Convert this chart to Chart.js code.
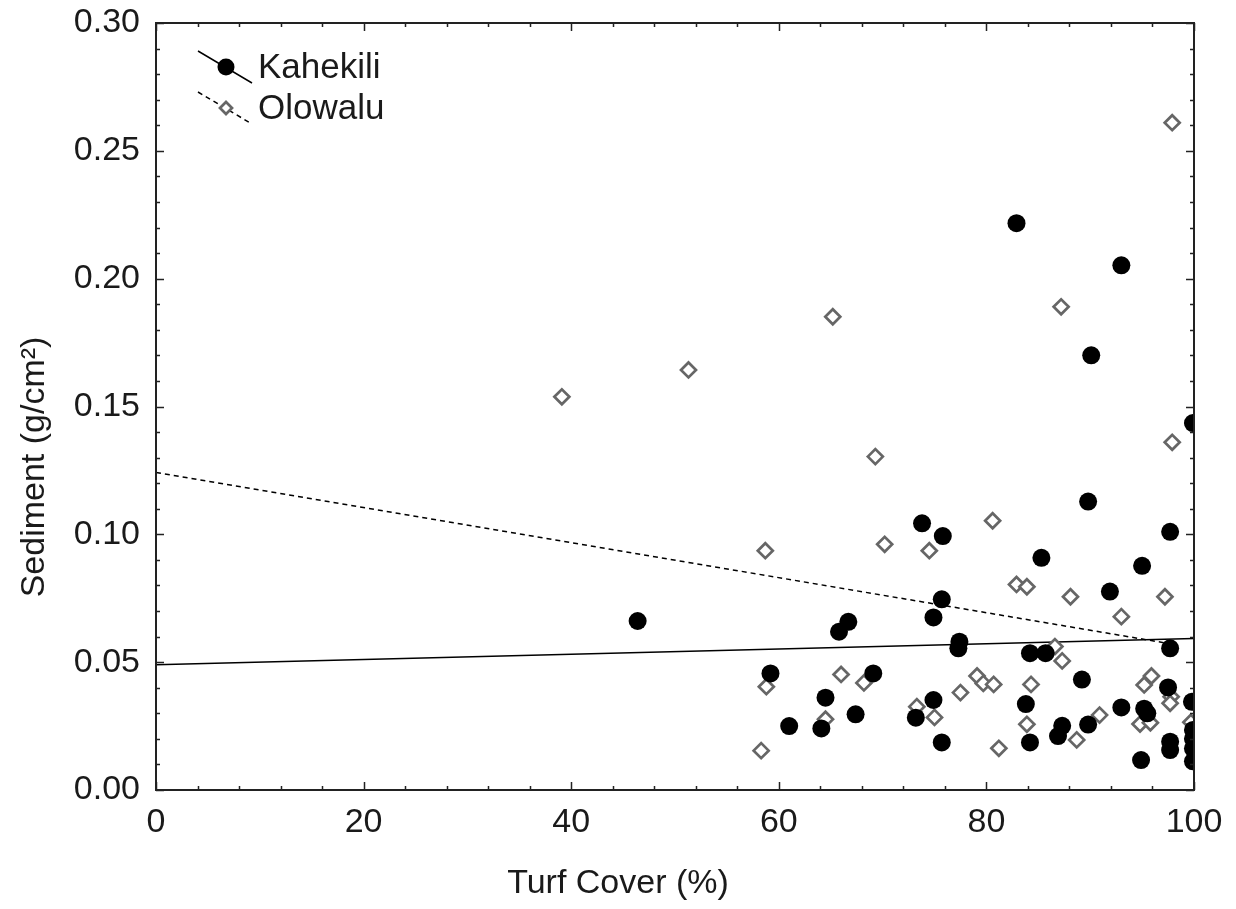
<!DOCTYPE html>
<html lang="en">
<head>
    <meta charset="UTF-8">
    <title>Sediment vs Turf Cover</title>
    <script src="https://cdn.jsdelivr.net/npm/chart.js"></script>
    <style>
        body, html {
            margin: 0;
            padding: 0;
            background: #fff;
            overflow: hidden;
        }
        #wrap {
            width: 1236px;
            height: 909px;
        }
    </style>
</head>
<body>
    <div id="wrap"><canvas id="sedimentChart"></canvas></div>

    <script>
        // Kahekili sites (filled circles)
        const kahekiliX = [46.4, 82.9, 93.0, 90.1, 99.9, 89.8, 73.8, 75.8, 97.7, 85.3, 95.0, 91.9, 75.7, 74.9, 66.7, 65.8,
            77.4, 77.3, 84.2, 85.7, 97.7, 59.2, 69.1, 89.2, 97.5, 99.8, 64.5, 74.9, 83.8, 93.0, 95.2, 95.5,
            67.4, 73.2, 61.0, 64.1, 87.3, 86.9, 89.8, 75.7, 84.2, 97.7, 97.7, 94.9, 99.9, 99.9, 99.9, 99.9];
        const kahekiliY = [0.0661, 0.2217, 0.2052, 0.1700, 0.1435, 0.1128, 0.1043, 0.0993, 0.1010, 0.0908, 0.0877, 0.0776, 0.0746, 0.0675, 0.0658, 0.0619,
            0.0580, 0.0554, 0.0535, 0.0535, 0.0554, 0.0456, 0.0456, 0.0432, 0.0401, 0.0345, 0.0361, 0.0352, 0.0336, 0.0323, 0.0318, 0.0300,
            0.0296, 0.0283, 0.0250, 0.0241, 0.0251, 0.0211, 0.0256, 0.0186, 0.0186, 0.0189, 0.0156, 0.0117, 0.0235, 0.0200, 0.0162, 0.0112];

        // Olowalu sites (open diamonds)
        const olowaluX = [39.1, 51.3, 65.2, 69.3, 87.2, 97.9, 97.9, 80.6, 70.2, 58.7, 74.5, 82.9, 83.9, 88.1, 93.0, 97.2,
            86.6, 87.3, 66.0, 58.8, 68.2, 79.1, 79.7, 80.7, 77.5, 84.3, 95.9, 95.2, 97.8, 97.7, 73.3, 75.0,
            64.5, 90.9, 83.9, 94.8, 95.8, 58.3, 81.2, 88.7, 99.7];
        const olowaluY = [0.1538, 0.1643, 0.1851, 0.1304, 0.1890, 0.2610, 0.1360, 0.1053, 0.0961, 0.0936, 0.0936, 0.0804, 0.0795, 0.0756, 0.0678, 0.0756,
            0.0561, 0.0505, 0.0452, 0.0404, 0.0419, 0.0446, 0.0417, 0.0413, 0.0381, 0.0413, 0.0446, 0.0411, 0.0365, 0.0339, 0.0326, 0.0284,
            0.0277, 0.0293, 0.0257, 0.0258, 0.0263, 0.0154, 0.0163, 0.0196, 0.0265];

        // regression lines (end points)
        const kahekiliFitX = [0, 100];
        const kahekiliFitY = [0.0490, 0.0593];
        const olowaluFitX = [0, 98];
        const olowaluFitY = [0.1242, 0.0570];

        const xTicks = [0, 20, 40, 60, 80, 100];
        const yTicks = [0, 0.05, 0.10, 0.15, 0.20, 0.25, 0.30];
        const xMinorStep = 4;
        const yMinorStep = 0.01;
        const xTitle = 'Turf Cover (%)';
        const yTitle = 'Sediment (g/cm²)';

        const toPoints = (xs, ys) => xs.map((x, i) => ({ x: x, y: ys[i] }));
        const FONT = "'Liberation Sans', Arial, sans-serif";
        const TEXT = '#1a1a1a';

        // frame with inward ticks on all four sides
        const frameTicks = {
            id: 'frameTicks',
            afterDatasetsDraw(chart) {
                const ctx = chart.ctx;
                const a = chart.chartArea;
                const xs = chart.scales.x, ys = chart.scales.y;
                ctx.save();
                ctx.strokeStyle = '#222';
                ctx.lineWidth = 1.5;
                ctx.beginPath();
                for (let v = xs.min; v <= xs.max + 1e-9; v += xMinorStep) {
                    const len = xTicks.some(t => Math.abs(t - v) < 1e-6) ? 8 : 4;
                    const px = Math.round(xs.getPixelForValue(v)) + 0.5;
                    ctx.moveTo(px, a.bottom); ctx.lineTo(px, a.bottom - len);
                    ctx.moveTo(px, a.top); ctx.lineTo(px, a.top + len);
                }
                for (let v = ys.min; v <= ys.max + 1e-9; v += yMinorStep) {
                    const len = yTicks.some(t => Math.abs(t - v) < 1e-6) ? 8 : 4;
                    const py = Math.round(ys.getPixelForValue(v)) + 0.5;
                    ctx.moveTo(a.left, py); ctx.lineTo(a.left + len, py);
                    ctx.moveTo(a.right, py); ctx.lineTo(a.right - len, py);
                }
                ctx.stroke();
                ctx.lineWidth = 2;
                ctx.strokeRect(a.left, a.top, a.right - a.left, a.bottom - a.top);
                ctx.restore();
            }
        };

        // axis titles: the original centres them on the page, not on the plot box
        const axisTitles = {
            id: 'axisTitles',
            afterDraw(chart) {
                const ctx = chart.ctx;
                ctx.save();
                ctx.fillStyle = TEXT;
                ctx.font = '34px ' + FONT;
                ctx.textAlign = 'center';
                ctx.textBaseline = 'middle';
                ctx.fillText(xTitle, chart.width / 2, 884);
                ctx.translate(35, 467);
                ctx.rotate(-Math.PI / 2);
                ctx.fillText(yTitle, 0, 0);
                ctx.restore();
            }
        };

        // legend in the upper-left corner, symbol on a slanted line sample
        const cornerLegend = {
            id: 'cornerLegend',
            afterDatasetsDraw(chart) {
                const ctx = chart.ctx;
                const a = chart.chartArea;
                const ds = chart.data.datasets;
                const rows = [[ds[0], ds[2]], [ds[1], ds[3]]];
                rows.forEach(([pts, fit], i) => {
                    const cx = a.left + 70;
                    const cy = a.top + 44 + i * 41;
                    ctx.save();
                    ctx.strokeStyle = fit.borderColor;
                    ctx.lineWidth = fit.borderWidth;
                    ctx.setLineDash(fit.borderDash || []);
                    ctx.beginPath();
                    ctx.moveTo(cx - 28, cy - 16);
                    ctx.lineTo(cx + 26, cy + 16);
                    ctx.stroke();
                    ctx.setLineDash([]);
                    ctx.fillStyle = pts.backgroundColor;
                    ctx.strokeStyle = pts.borderColor;
                    ctx.lineWidth = pts.borderWidth;
                    Chart.helpers.drawPoint(ctx, {
                        pointStyle: pts.pointStyle,
                        radius: i === 0 ? 8.5 : 6,
                        rotation: 0,
                        borderWidth: pts.borderWidth
                    }, cx, cy);
                    ctx.fillStyle = TEXT;
                    ctx.font = '35px ' + FONT;
                    ctx.textBaseline = 'middle';
                    ctx.fillText(pts.label, cx + 32, cy + 1);
                    ctx.restore();
                });
            }
        };

        const ctx = document.getElementById('sedimentChart').getContext('2d');
        new Chart(ctx, {
            type: 'scatter',
            data: {
                datasets: [
                    {
                        label: 'Kahekili',
                        data: toPoints(kahekiliX, kahekiliY),
                        pointStyle: 'circle',
                        pointRadius: 9,
                        backgroundColor: '#000',
                        borderColor: '#000',
                        borderWidth: 0,
                        clip: 0,
                        order: 1
                    },
                    {
                        label: 'Olowalu',
                        data: toPoints(olowaluX, olowaluY),
                        pointStyle: 'rectRot',
                        pointRadius: 7.5,
                        backgroundColor: '#fff',
                        borderColor: '#666',
                        borderWidth: 2.7,
                        clip: 0,
                        order: 1
                    },
                    {
                        label: 'Kahekili fit',
                        type: 'line',
                        data: toPoints(kahekiliFitX, kahekiliFitY),
                        borderColor: '#000',
                        borderWidth: 1.5,
                        pointRadius: 0,
                        fill: false,
                        order: 2
                    },
                    {
                        label: 'Olowalu fit',
                        type: 'line',
                        data: toPoints(olowaluFitX, olowaluFitY),
                        borderColor: '#000',
                        borderWidth: 1.5,
                        borderDash: [5, 4],
                        pointRadius: 0,
                        fill: false,
                        order: 2
                    }
                ]
            },
            options: {
                responsive: true,
                maintainAspectRatio: false,
                animation: false,
                layout: { padding: { top: 23, right: 42, left: 0, bottom: 0 } },
                scales: {
                    x: {
                        type: 'linear',
                        min: 0,
                        max: 100,
                        afterFit: s => { s.height = 119; s.paddingLeft = 0; s.paddingRight = 0; },
                        afterBuildTicks: s => { s.ticks = xTicks.map(v => ({ value: v })); },
                        grid: { display: false, drawTicks: false },
                        border: { display: false },
                        ticks: {
                            padding: 12,
                            color: TEXT,
                            font: { family: FONT, size: 34 }
                        }
                    },
                    y: {
                        type: 'linear',
                        min: 0,
                        max: 0.3,
                        afterFit: s => { s.width = 156; s.paddingTop = 0; s.paddingBottom = 0; },
                        afterBuildTicks: s => { s.ticks = yTicks.map(v => ({ value: v })); },
                        grid: { display: false, drawTicks: false },
                        border: { display: false },
                        ticks: {
                            padding: 16,
                            color: TEXT,
                            font: { family: FONT, size: 34 },
                            callback: v => Number(v).toFixed(2)
                        }
                    }
                },
                plugins: {
                    legend: { display: false },
                    tooltip: { enabled: false }
                }
            },
            plugins: [frameTicks, axisTitles, cornerLegend]
        });
    </script>
</body>
</html>
